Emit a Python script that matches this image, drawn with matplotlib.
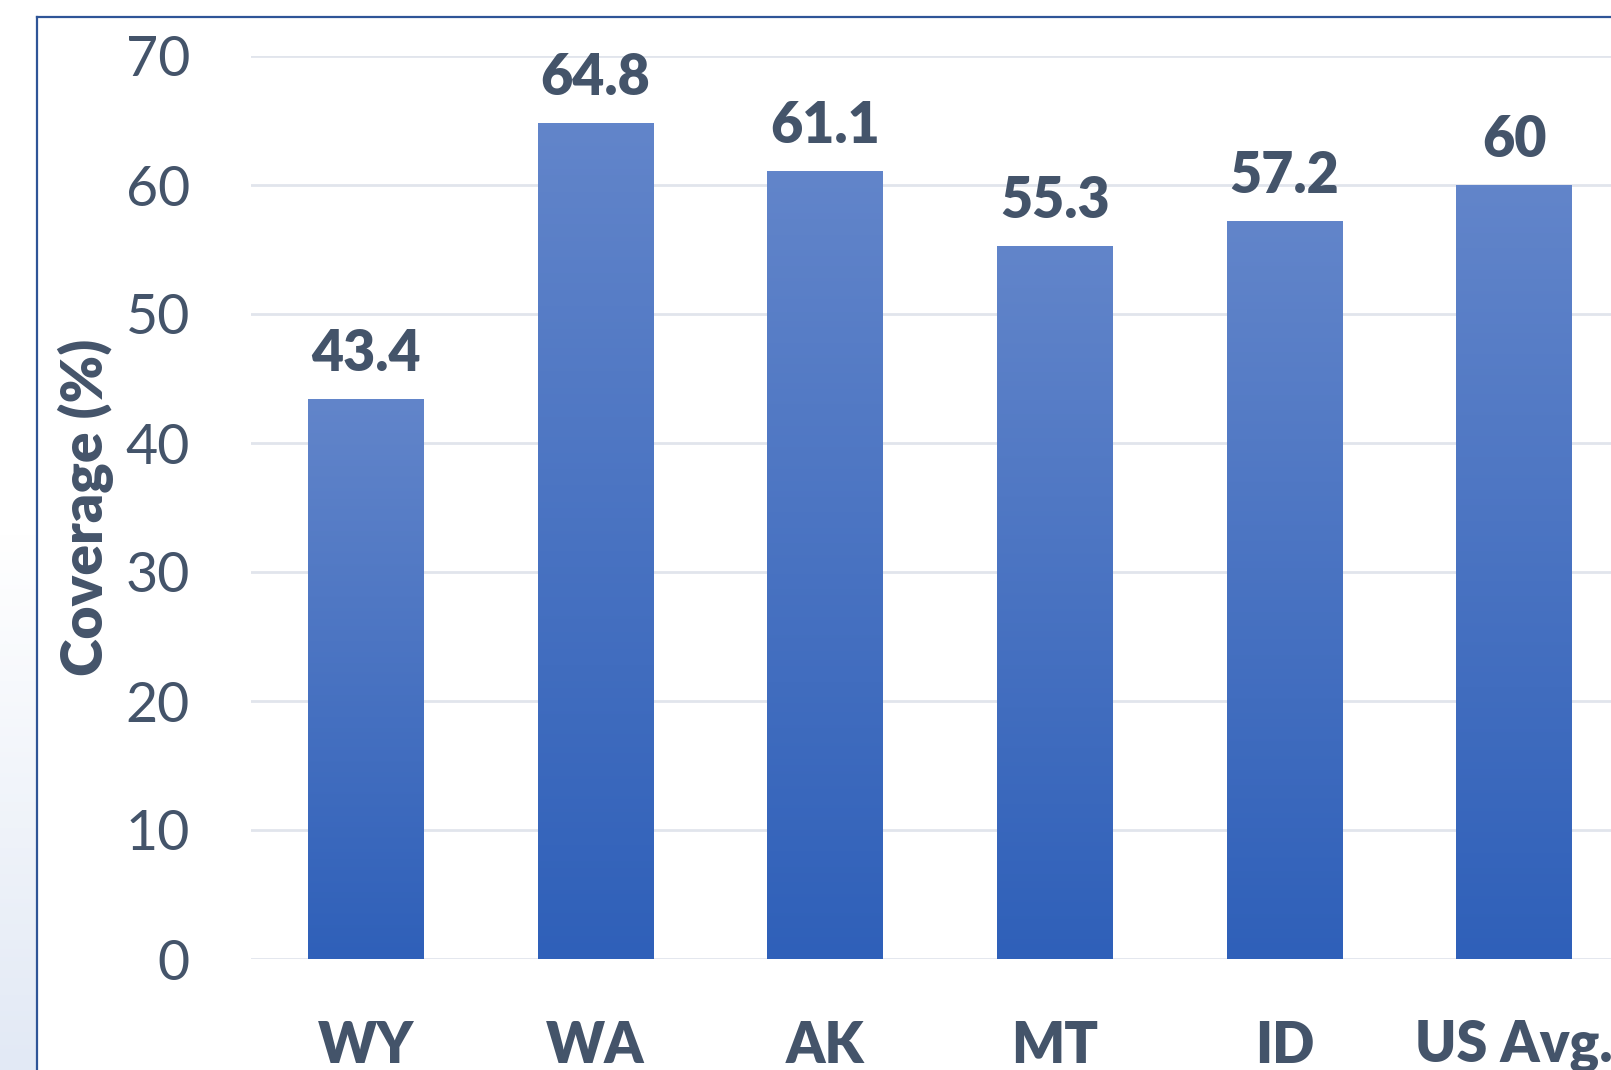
import numpy as np
import matplotlib
matplotlib.use("Agg")
import matplotlib.pyplot as plt
from matplotlib.colors import LinearSegmentedColormap
from matplotlib.lines import Line2D
from matplotlib.patches import Rectangle

categories = ["WY", "WA", "AK", "MT", "ID", "US Avg."]
coverage = [43.4, 64.8, 61.1, 55.3, 57.2, 60]
value_labels = ["43.4", "64.8", "61.1", "55.3", "57.2", "60"]
yticks = [0, 10, 20, 30, 40, 50, 60, 70]

W, H = 1611, 1070
DPI = 100
txt = "#44546a"
plt.rcParams['font.family'] = ['Lato', 'DejaVu Sans']

fig = plt.figure(figsize=(W / DPI, H / DPI), dpi=DPI)

# left strip background gradient
bg = fig.add_axes([0, 0, 1, 1], zorder=-5)
bg.set_axis_off()
grad = np.linspace(0, 1, 256).reshape(-1, 1)
bgcmap = LinearSegmentedColormap.from_list("bg", ["#ffffff", "#ffffff", "#e2e9f5"])
bg.imshow(grad, aspect="auto", cmap=bgcmap, extent=[0, 1, 1, 0], origin="upper")
bg.set_xlim(0, 1)
bg.set_ylim(1, 0)
bg.add_patch(Rectangle((37 / W, 0), 1, 1 - 17 / H, facecolor="white", edgecolor="none",
                       transform=bg.transAxes, zorder=2))

# frame lines
fig.add_artist(Line2D([37 / W, 37 / W], [0, 1 - 17 / H], color="#2f5597", lw=1.6,
                      transform=fig.transFigure))
fig.add_artist(Line2D([37 / W, 1], [1 - 17 / H, 1 - 17 / H], color="#2f5597", lw=1.6,
                      transform=fig.transFigure))

left, right, top, bottom = 251, 1629, 56, 959
ax = fig.add_axes([left / W, 1 - bottom / H, (right - left) / W, (bottom - top) / H])
ax.patch.set_alpha(0)
x = np.arange(len(categories))
bars = ax.bar(x, coverage, width=0.505, facecolor="none", edgecolor="none", zorder=3)

cmap = LinearSegmentedColormap.from_list("bar", ["#2f60b9", "#6285ca"])
for b in bars:
    x0, w, h = b.get_x(), b.get_width(), b.get_height()
    im = ax.imshow(np.linspace(0, 1, 256).reshape(-1, 1), aspect="auto", cmap=cmap,
                   extent=[x0, x0 + w, 0, h], origin="lower", zorder=3)
    im.set_clip_path(b)

for xi, v, lab in zip(x, coverage, value_labels):
    ax.annotate(lab, (xi, v), xytext=(0, 20), textcoords="offset points",
                ha="center", va="baseline", fontsize=40, fontweight="heavy", color=txt)

ax.set_xlim(-0.5, len(categories) - 0.5)
ax.set_ylim(0, 70)
ax.set_yticks(yticks)
ax.set_yticklabels([str(t) for t in yticks], fontsize=40, color=txt)
ax.set_xticks(x)
ax.set_xticklabels(categories, fontsize=40, fontweight="heavy", color=txt)
ax.tick_params(axis="y", length=0, pad=44)
ax.tick_params(axis="x", length=0, pad=44)
ax.grid(axis="y", color="#e1e5ec", lw=2.0, zorder=0)
ax.set_axisbelow(True)
for s in ax.spines.values():
    s.set_visible(False)

ax.set_ylabel("Coverage (%)", fontsize=41, fontweight="heavy", color=txt)
ax.yaxis.set_label_coords((114 - left) / (right - left), 0.5)

fig.savefig("out.png", dpi=DPI)
